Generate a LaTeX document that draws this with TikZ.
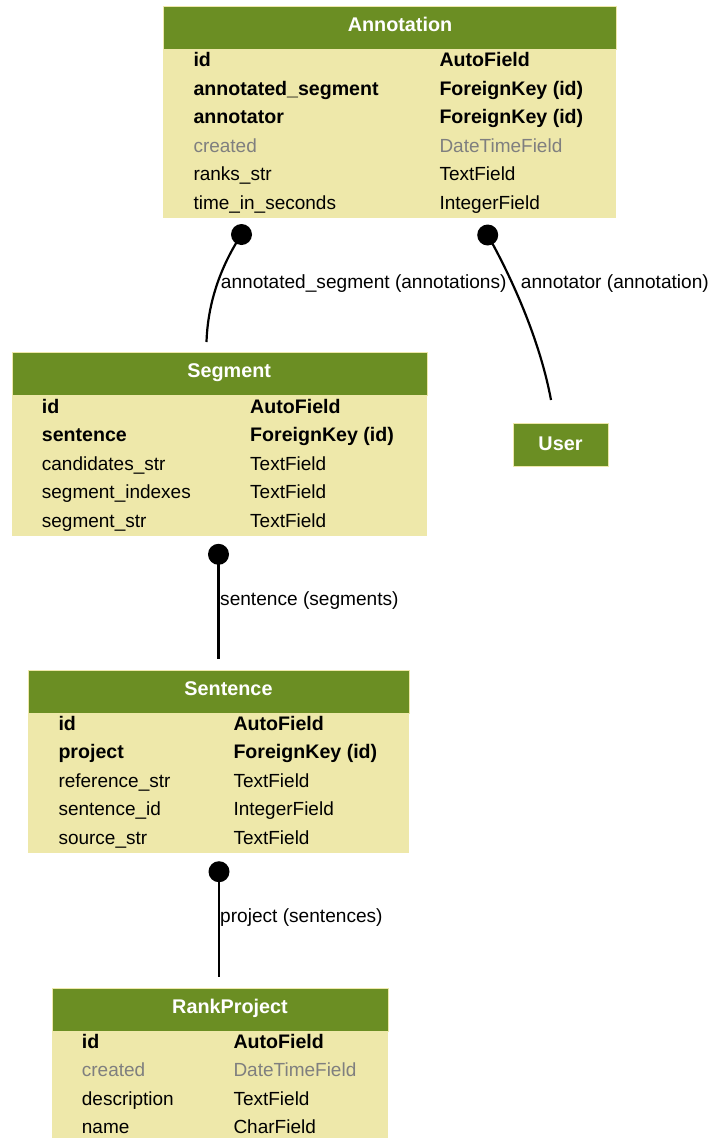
\documentclass[tikz,border=0pt]{standalone}
\usepackage{fontspec}
\setmainfont{Liberation Sans}
\definecolor{olivehdr}{HTML}{6B8E23}
\definecolor{palebody}{HTML}{EEE8AA}
\definecolor{fieldgray}{HTML}{7F7F7F}
\begin{document}
\begin{tikzpicture}[x=1pt,y=-1pt,
  hdr/.style={fill=olivehdr, draw=palebody, line width=0.8pt, anchor=north west, inner sep=0, minimum height=43pt},
  bodybox/.style={fill=palebody, anchor=north west, inner sep=0},
  ttl/.style={text=white, font=\fontsize{19.8}{22}\selectfont\bfseries, anchor=base, inner sep=0},
  fb/.style={font=\fontsize{19.6}{22}\selectfont\bfseries, anchor=base west, inner sep=0},
  fr/.style={font=\fontsize{19.0}{22}\selectfont, anchor=base west, inner sep=0},
  fg/.style={fr, text=fieldgray},
  dotnode/.style={circle, fill=black, minimum size=21pt, inner sep=0},
  rel/.style={line width=2.2pt},
  lbl/.style={font=\fontsize{19.1}{22}\selectfont, anchor=base west, inner sep=0}]

\fill[white] (0,0) rectangle (712,1138);
\useasboundingbox (0,0) rectangle (712,1138);

% ---------- Annotation ----------
\node[bodybox, minimum width=453pt, minimum height=169pt] (ann-body) at (163,49) {};
\node[hdr, minimum width=453pt] (ann-hdr) at (163,6) {};
\node[ttl] (ann-title) at (400,31.7) {Annotation};
\node[fb] (ann-n1) at (193.3,66.7) {id};
\node[fb] (ann-t1) at (439.3,66.7) {AutoField};
\node[fb] (ann-n2) at (193.3,95.2) {annotated\_segment};
\node[fb] (ann-t2) at (439.3,95.2) {ForeignKey (id)};
\node[fb] (ann-n3) at (193.3,123.7) {annotator};
\node[fb] (ann-t3) at (439.3,123.7) {ForeignKey (id)};
\node[fg] (ann-n4) at (193.3,152.2) {created};
\node[fg] (ann-t4) at (439.3,152.2) {DateTimeField};
\node[fr] (ann-n5) at (193.3,180.7) {ranks\_str};
\node[fr] (ann-t5) at (439.3,180.7) {TextField};
\node[fr] (ann-n6) at (193.3,209.2) {time\_in\_seconds};
\node[fr] (ann-t6) at (439.3,209.2) {IntegerField};

% ---------- Segment ----------
\node[bodybox, minimum width=415pt, minimum height=141pt] (seg-body) at (11.7,395) {};
\node[hdr, minimum width=415pt] (seg-hdr) at (11.7,352) {};
\node[ttl] (seg-title) at (229.2,377.7) {Segment};
\node[fb] (seg-n1) at (41.7,413.3) {id};
\node[fb] (seg-t1) at (250,413.3) {AutoField};
\node[fb] (seg-n2) at (41.7,441.8) {sentence};
\node[fb] (seg-t2) at (250,441.8) {ForeignKey (id)};
\node[fr] (seg-n3) at (41.7,470.3) {candidates\_str};
\node[fr] (seg-t3) at (250,470.3) {TextField};
\node[fr] (seg-n4) at (41.7,498.8) {segment\_indexes};
\node[fr] (seg-t4) at (250,498.8) {TextField};
\node[fr] (seg-n5) at (41.7,527.3) {segment\_str};
\node[fr] (seg-t5) at (250,527.3) {TextField};

% ---------- User ----------
\node[hdr, minimum width=95pt] (user) at (513,423) {};
\node[ttl] (user-title) at (560.5,450) {User};

% ---------- Sentence ----------
\node[bodybox, minimum width=381pt, minimum height=140.5pt] (sen-body) at (28,712.5) {};
\node[hdr, minimum width=381pt] (sen-hdr) at (28,669.5) {};
\node[ttl] (sen-title) at (228.5,695.2) {Sentence};
\node[fb] (sen-n1) at (58.3,730.2) {id};
\node[fb] (sen-t1) at (233.3,730.2) {AutoField};
\node[fb] (sen-n2) at (58.3,758.7) {project};
\node[fb] (sen-t2) at (233.3,758.7) {ForeignKey (id)};
\node[fr] (sen-n3) at (58.3,787.2) {reference\_str};
\node[fr] (sen-t3) at (233.3,787.2) {TextField};
\node[fr] (sen-n4) at (58.3,815.7) {sentence\_id};
\node[fr] (sen-t4) at (233.3,815.7) {IntegerField};
\node[fr] (sen-n5) at (58.3,844.2) {source\_str};
\node[fr] (sen-t5) at (233.3,844.2) {TextField};

% ---------- RankProject ----------
\node[bodybox, minimum width=336pt, minimum height=107.5pt] (rp-body) at (52,1030.5) {};
\node[hdr, minimum width=336pt] (rp-hdr) at (52,987.5) {};
\node[ttl] (rp-title) at (230,1013.2) {RankProject};
\node[fb] (rp-n1) at (81.7,1048.3) {id};
\node[fb] (rp-t1) at (233.3,1048.3) {AutoField};
\node[fg] (rp-n2) at (81.7,1076.8) {created};
\node[fg] (rp-t2) at (233.3,1076.8) {DateTimeField};
\node[fr] (rp-n3) at (81.7,1105.3) {description};
\node[fr] (rp-t3) at (233.3,1105.3) {TextField};
\node[fr] (rp-n4) at (81.7,1133.8) {name};
\node[fr] (rp-t4) at (233.3,1133.8) {CharField};

% ---------- Relations ----------
\coordinate (c1) at (241.5,234.5);
\coordinate (e1) at (206.5,342);
\draw[rel] (c1) .. controls (226,258) and (208,295) .. (e1);
\node[dotnode] (d1) at (c1) {};
\node[lbl] (l1) at (220.7,288.3) {annotated\_segment (annotations)};

\coordinate (c2) at (487.7,235);
\coordinate (e2) at (551,400);
\draw[rel] (c2) .. controls (503,262) and (538,330) .. (e2);
\node[dotnode] (d2) at (c2) {};
\node[lbl] (l2) at (520.7,288.3) {annotator (annotation)};

\coordinate (c3) at (218.5,554.3);
\coordinate (e3) at (218.5,659);
\draw[rel] (c3) -- (e3);
\node[dotnode] (d3) at (c3) {};
\node[lbl] (l3) at (220,605) {sentence (segments)};

\coordinate (c4) at (219,871.7);
\coordinate (e4) at (219,977);
\draw[rel] (c4) -- (e4);
\node[dotnode] (d4) at (c4) {};
\node[lbl] (l4) at (220,922.5) {project (sentences)};
\end{tikzpicture}
\end{document}
